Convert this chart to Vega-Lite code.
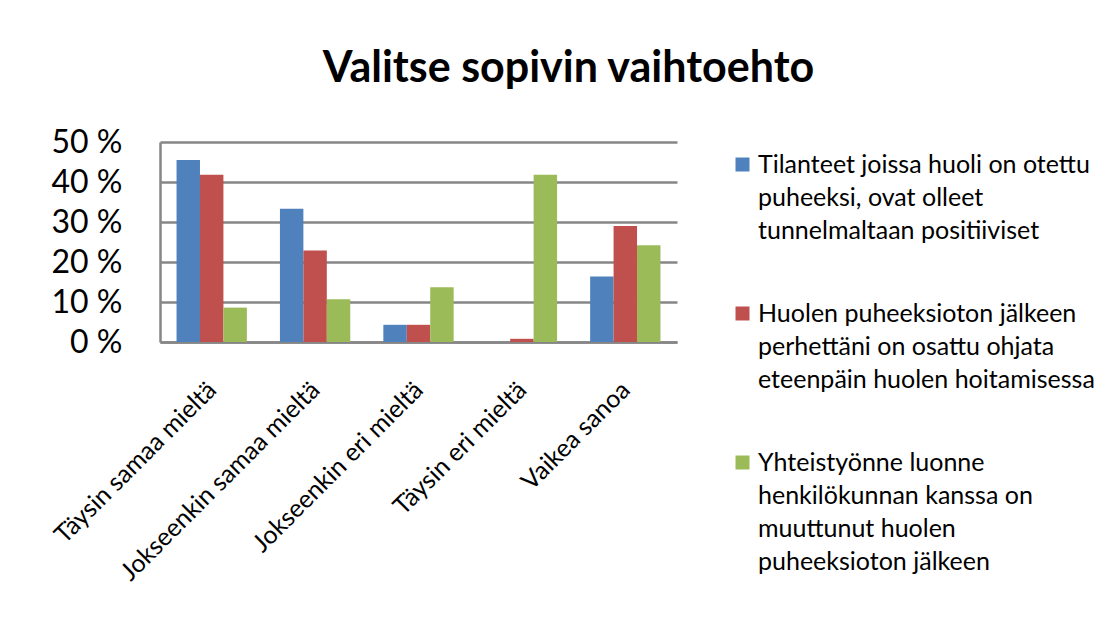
{
  "$schema": "https://vega.github.io/schema/vega-lite/v6.json",
  "width": 517,
  "height": 200,
  "autosize": {"type": "none"},
  "padding": {"left": 160, "top": 142, "right": 437, "bottom": 278},
  "background": "white",
  "title": {
    "text": "Valitse sopivin vaihtoehto",
    "font": "Lato",
    "fontSize": 43,
    "fontWeight": "bold",
    "color": "black",
    "anchor": "middle",
    "dx": 150,
    "baseline": "alphabetic",
    "offset": 1
  },
  "data": {
    "values": [
      {"category": "Täysin samaa  mieltä", "series": "Tilanteet joissa huoli on otettu puheeksi, ovat olleet tunnelmaltaan positiiviset", "value": 45.5},
      {"category": "Täysin samaa  mieltä", "series": "Huolen puheeksioton jälkeen perhettäni on osattu ohjata eteenpäin huolen hoitamisessa", "value": 41.8},
      {"category": "Täysin samaa  mieltä", "series": "Yhteistyönne luonne henkilökunnan kanssa on muuttunut huolen puheeksioton jälkeen", "value": 8.6},
      {"category": "Jokseenkin samaa mieltä", "series": "Tilanteet joissa huoli on otettu puheeksi, ovat olleet tunnelmaltaan positiiviset", "value": 33.3},
      {"category": "Jokseenkin samaa mieltä", "series": "Huolen puheeksioton jälkeen perhettäni on osattu ohjata eteenpäin huolen hoitamisessa", "value": 22.9},
      {"category": "Jokseenkin samaa mieltä", "series": "Yhteistyönne luonne henkilökunnan kanssa on muuttunut huolen puheeksioton jälkeen", "value": 10.7},
      {"category": "Jokseenkin eri mieltä", "series": "Tilanteet joissa huoli on otettu puheeksi, ovat olleet tunnelmaltaan positiiviset", "value": 4.3},
      {"category": "Jokseenkin eri mieltä", "series": "Huolen puheeksioton jälkeen perhettäni on osattu ohjata eteenpäin huolen hoitamisessa", "value": 4.3},
      {"category": "Jokseenkin eri mieltä", "series": "Yhteistyönne luonne henkilökunnan kanssa on muuttunut huolen puheeksioton jälkeen", "value": 13.7},
      {"category": "Täysin eri mieltä", "series": "Tilanteet joissa huoli on otettu puheeksi, ovat olleet tunnelmaltaan positiiviset", "value": 0},
      {"category": "Täysin eri mieltä", "series": "Huolen puheeksioton jälkeen perhettäni on osattu ohjata eteenpäin huolen hoitamisessa", "value": 0.8},
      {"category": "Täysin eri mieltä", "series": "Yhteistyönne luonne henkilökunnan kanssa on muuttunut huolen puheeksioton jälkeen", "value": 41.8},
      {"category": "Vaikea sanoa", "series": "Tilanteet joissa huoli on otettu puheeksi, ovat olleet tunnelmaltaan positiiviset", "value": 16.4},
      {"category": "Vaikea sanoa", "series": "Huolen puheeksioton jälkeen perhettäni on osattu ohjata eteenpäin huolen hoitamisessa", "value": 29.0},
      {"category": "Vaikea sanoa", "series": "Yhteistyönne luonne henkilökunnan kanssa on muuttunut huolen puheeksioton jälkeen", "value": 24.2}
    ]
  },
  "mark": {"type": "bar"},
  "encoding": {
    "x": {
      "field": "category",
      "type": "nominal",
      "sort": ["Täysin samaa  mieltä", "Jokseenkin samaa mieltä", "Jokseenkin eri mieltä", "Täysin eri mieltä", "Vaikea sanoa"],
      "scale": {"paddingInner": 0.32, "paddingOuter": 0.16},
      "axis": {
        "title": null,
        "labelAngle": -45,
        "labelAlign": "right",
        "labelBaseline": "top",
        "labelFont": "Lato",
        "labelFontSize": 25,
        "labelColor": "black",
        "labelPadding": 35,
        "labelLimit": 400,
        "labelOffset": -8,
        "ticks": false,
        "domainColor": "#868686",
        "domainWidth": 2.5
      }
    },
    "xOffset": {
      "field": "series",
      "sort": [
        "Tilanteet joissa huoli on otettu puheeksi, ovat olleet tunnelmaltaan positiiviset",
        "Huolen puheeksioton jälkeen perhettäni on osattu ohjata eteenpäin huolen hoitamisessa",
        "Yhteistyönne luonne henkilökunnan kanssa on muuttunut huolen puheeksioton jälkeen"
      ]
    },
    "y": {
      "field": "value",
      "type": "quantitative",
      "scale": {"domain": [0, 50]},
      "axis": {
        "title": null,
        "values": [0, 10, 20, 30, 40, 50],
        "labelExpr": "datum.value + ' %'",
        "labelFont": "Lato",
        "labelFontSize": 32,
        "labelColor": "black",
        "labelPadding": 38,
        "ticks": false,
        "domainColor": "#868686",
        "domainWidth": 2.5,
        "grid": true,
        "gridColor": "#868686",
        "gridWidth": 2.5
      }
    },
    "color": {
      "field": "series",
      "type": "nominal",
      "scale": {
        "domain": [
          "Tilanteet joissa huoli on otettu puheeksi, ovat olleet tunnelmaltaan positiiviset",
          "Huolen puheeksioton jälkeen perhettäni on osattu ohjata eteenpäin huolen hoitamisessa",
          "Yhteistyönne luonne henkilökunnan kanssa on muuttunut huolen puheeksioton jälkeen"
        ],
        "range": ["#4F81BD", "#C0504D", "#9BBB59"]
      },
      "legend": {
        "title": null,
        "orient": "none",
        "legendX": 570,
        "legendY": 10,
        "symbolType": "square",
        "symbolSize": 196,
        "symbolStrokeWidth": 0,
        "labelFont": "Lato",
        "labelFontSize": 25,
        "labelColor": "black",
        "labelOffset": 3,
        "labelLimit": 500,
        "rowPadding": 57,
        "labelExpr": "substring(datum.label, 0, 3) == 'Til' ? ['Tilanteet joissa huoli on otettu', 'puheeksi, ovat olleet', 'tunnelmaltaan  positiiviset'] : substring(datum.label, 0, 3) == 'Huo' ? ['Huolen puheeksioton jälkeen', 'perhettäni on osattu ohjata', 'eteenpäin huolen hoitamisessa'] : ['Yhteistyönne luonne', 'henkilökunnan kanssa on', 'muuttunut huolen', 'puheeksioton jälkeen']"
      }
    }
  },
  "config": {
    "view": {"stroke": null},
    "style": {"guide-label": {"lineHeight": 33}}
  }
}
